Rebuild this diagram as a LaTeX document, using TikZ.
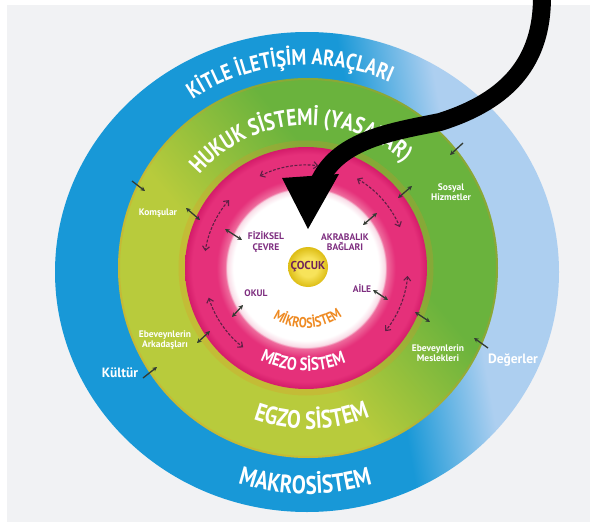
\documentclass[tikz,border=0pt]{standalone}
\usepackage{fontspec}
\setmainfont{PT Sans}
\newfontfamily\condsans[FakeStretch=0.82]{PT Sans}
\usetikzlibrary{decorations.text,arrows.meta,calc}
\definecolor{bgc}{HTML}{F1F2F4}
\definecolor{blueA}{HTML}{1898D7}
\definecolor{blueB}{HTML}{ADCFF0}
\definecolor{greenA}{HTML}{B8CB3C}
\definecolor{greenB}{HTML}{6AB33D}
\definecolor{pinkD}{HTML}{D41C6A}
\definecolor{pinkM}{HTML}{E5307A}
\definecolor{pinkL}{HTML}{EE6A9C}
\definecolor{pinkW}{HTML}{F9DCE7}
\definecolor{yelA}{HTML}{F7E35A}
\definecolor{yelB}{HTML}{DDBD14}
\definecolor{purp}{HTML}{7E2E80}
\definecolor{childc}{HTML}{6E2458}
\definecolor{orng}{HTML}{EE8A22}
\definecolor{arrc}{HTML}{333B33}
\definecolor{dashc}{HTML}{5E1F44}
\pgfdeclarehorizontalshading{bluesh}{100bp}{color(0bp)=(blueA); color(57bp)=(blueA); color(66bp)=(blueB); color(100bp)=(blueB)}
\pgfdeclarehorizontalshading{greensh}{100bp}{color(0bp)=(greenA); color(42bp)=(greenA); color(60bp)=(greenB); color(100bp)=(greenB)}
\pgfdeclareradialshading{pinksh}{\pgfpoint{0bp}{0bp}}{color(0bp)=(white); color(15bp)=(white); color(16.3bp)=(pinkW); color(16.7bp)=(pinkL); color(18.5bp)=(pinkM); color(23.5bp)=(pinkM); color(25bp)=(pinkD); color(50bp)=(pinkD)}
\pgfdeclareradialshading{yelsh}{\pgfpoint{0bp}{0bp}}{color(0bp)=(yelA); color(12bp)=(yelA); color(25bp)=(yelB); color(50bp)=(yelB)}
\newcommand\ftKitle{\condsans\bfseries\fontsize{22.5pt}{22.5pt}\selectfont}
\newcommand\ftHukuk{\condsans\bfseries\fontsize{23.5pt}{23.5pt}\selectfont}
\newcommand\ftEgzo{\condsans\bfseries\fontsize{25pt}{25pt}\selectfont}
\newcommand\ftMakro{\condsans\bfseries\fontsize{25.5pt}{25.5pt}\selectfont}
\newcommand\ftMezo{\condsans\bfseries\fontsize{18pt}{18pt}\selectfont}
\newcommand\ftMikro{\condsans\bfseries\fontsize{14.5pt}{14.5pt}\selectfont}
\begin{document}
\begin{tikzpicture}[x=1pt,y=-1pt,
  lbl/.style={font=\bfseries\fontsize{9.5}{10.5}\selectfont, text=white, align=center, inner sep=0pt},
  inl/.style={font=\bfseries\fontsize{9.5}{10.5}\selectfont, text=purp, align=center, inner sep=0pt},
  outl/.style={font=\bfseries\fontsize{13.5}{15}\selectfont, text=white, inner sep=0pt},
  sarr/.style={arrc, line width=1.3pt, -{Stealth[length=4.5pt,width=4.5pt]}},
  darr/.style={arrc, line width=1.3pt, {Stealth[length=4.5pt,width=4.5pt]}-{Stealth[length=4.5pt,width=4.5pt]}},
  dsharr/.style={dashc, line width=1.1pt, dash pattern=on 2.8pt off 1.6pt, {Straight Barb[length=4pt,width=7pt]}-{Straight Barb[length=4pt,width=7pt]}},
  ringtext/.style={decorate, decoration={text along path, text align=center, text color=white}}
]
\useasboundingbox (0,0) rectangle (592,527);
\fill[white] (0,0) rectangle (592,527);
\fill[bgc] (7,5) rectangle (590,522);
% rings
\shade[shading=bluesh, shading angle=10] (307,272) ellipse [x radius=252, y radius=240];
\shade[shading=greensh, shading angle=40] (308,268) circle [radius=190];
\draw[orng, opacity=0.25, line width=2pt] (308,268) circle [radius=189];
\draw[orng, opacity=0.22, line width=7pt] (306,268) circle [radius=124];
\shade[shading=pinksh] (306,268) circle [radius=121];
\shade[shading=yelsh] (308,267) circle [radius=20];
% ring titles
\path[ringtext, decoration={text={|\ftKitle|KİTLE İLETİŞİM ARAÇLARI}}] ($(307,272)+(220:207)$) arc[start angle=220, end angle=310, radius=207];
\path[ringtext, decoration={text={|\ftHukuk|HUKUK SİSTEMİ (YASALAR)}}] ($(308,268)+(191.5:143)$) arc[start angle=191.5, end angle=341.5, radius=143];
\path[ringtext, decoration={text={|\ftEgzo|EGZO SİSTEM}}] ($(308,268)+(133.6:161)$) arc[start angle=133.6, end angle=43.6, radius=161];
\path[ringtext, decoration={text={|\ftMakro|MAKROSİSTEM}}] ($(307,272)+(135.5:222)$) arc[start angle=135.5, end angle=45.5, radius=222];
\path[ringtext, decoration={text={|\ftMezo|MEZO SİSTEM}}] ($(306,268)+(151.7:103)$) arc[start angle=151.7, end angle=31.7, radius=103];
\path[decorate, decoration={text along path, text align=center, text color=orng, text={|\ftMikro|MİKROSİSTEM}}] ($(306,268)+(178:60)$) arc[start angle=178, end angle=-2, radius=60];
% labels
\node[font=\bfseries\fontsize{11.5}{12}\selectfont, text=childc, inner sep=0pt] (cocuk) at (308,267) {ÇOCUK};
\node[inl] (fiz) at (266,242) {FİZİKSEL\\ÇEVRE};
\node[inl] (akr) at (345,242) {AKRABALIK\\BAĞLARI};
\node[inl] (okul) at (256,293) {OKUL};
\node[inl] (aile) at (362,288) {AİLE};
\node[lbl] (kom) at (158,213) {Komşular};
\node[lbl] (sos) at (451,192) {Sosyal\\Hizmetler};
\node[lbl] (ark) at (165,340) {Ebeveynlerin\\Arkadaşları};
\node[lbl] (mes) at (438,353) {Ebeveynlerin\\Meslekleri};
\node[outl] (kul) at (120,373) {Kültür};
\node[outl] (deg) at (513,360) {Değerler};
% single arrows blue -> green
\draw[sarr] (132,181) -- (145,191);
\draw[sarr] (143,378) -- (157,367);
\draw[sarr] (463,143) -- (450,155);
\draw[sarr] (488,348) -- (474,338);
% double arrows green <-> pink
\draw[darr] (186,208) -- (200,220);
\draw[darr] (197,343) -- (210,331);
\draw[darr] (412,186) -- (398,198);
\draw[darr] (415,312) -- (430,322);
% double arrows pink <-> white
\draw[darr] (225,229) -- (242,240);
\draw[darr] (377,213) -- (363,225);
\draw[darr] (232,317) -- (243,305);
\draw[darr] (373,290) -- (388,300);
% dashed arcs in the mezo ring
\coordinate (mc) at (306,267);
\draw[dsharr] ($(mc)+(-117:102)$) arc[start angle=-117, end angle=-83, radius=102];
\draw[dsharr] ($(mc)+(-60:102)$) arc[start angle=-60, end angle=-23, radius=102];
\draw[dsharr] ($(mc)+(-139:102)$) arc[start angle=-139, end angle=-171, radius=102];
\draw[dsharr] ($(mc)+(162.5:102)$) arc[start angle=162.5, end angle=128, radius=102];
\draw[dsharr] ($(mc)+(5:102)$) arc[start angle=5, end angle=39, radius=102];
% big black arrow
\draw[black, line width=18pt] (542,-3) .. controls (542,60) and (510,100) .. (440,122) .. controls (390,132) and (340,140) .. (320,180);
\fill[black] (282,178) -- (339,174) -- (308,229) -- cycle;
\end{tikzpicture}
\end{document}
